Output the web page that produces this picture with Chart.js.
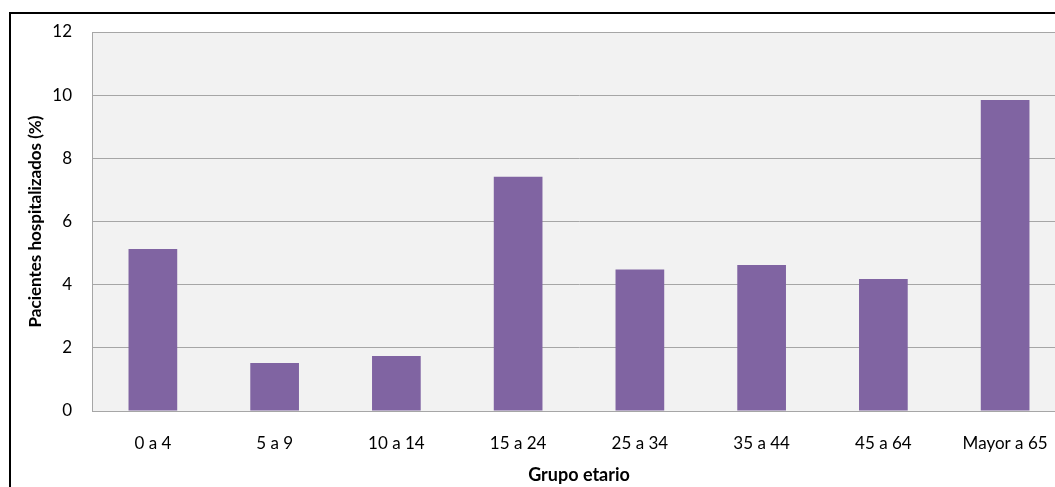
<!DOCTYPE html>
<html>
<head>
<meta charset="utf-8">
<script src="https://cdn.jsdelivr.net/npm/chart.js@4.4.1/dist/chart.umd.min.js"></script>
<style>
  html, body { margin: 0; padding: 0; background: #fff; overflow: hidden; }
  #frame {
    position: absolute; left: 9px; top: 12px; width: 1100px; height: 520px;
    border: 2px solid #000; box-sizing: border-box;
  }
  #wrap { position: absolute; left: 0; top: 0; width: 1080px; height: 487px; }
</style>
</head>
<body>
<div id="frame"></div>
<div id="wrap"><canvas id="chart"></canvas></div>
<script>
const grupos = ["0 a 4", "5 a 9", "10 a 14", "15 a 24", "25 a 34", "35 a 44", "45 a 64", "Mayor a 65"];
const hospitalizados = [5.13, 1.52, 1.74, 7.42, 4.48, 4.62, 4.18, 9.85];
const yTicks = [0, 2, 4, 6, 8, 10, 12];

const fontFamily = "Lato, 'Open Sans', sans-serif";

// gray plot background like the spreadsheet chart
const plotBg = {
  id: "plotBg",
  beforeDraw(chart) {
    const { ctx, chartArea: a } = chart;
    ctx.save();
    ctx.fillStyle = "#f2f2f2";
    ctx.fillRect(a.left, a.top, a.right - a.left, a.bottom - a.top);
    ctx.strokeStyle = "#a6a6a6";
    ctx.lineWidth = 1;
    ctx.strokeRect(a.left + 0.5, a.top + 0.5, a.right - a.left, a.bottom - a.top);
    ctx.restore();
  }
};

new Chart(document.getElementById("chart"), {
  type: "bar",
  data: {
    labels: grupos,
    datasets: [{
      data: hospitalizados,
      backgroundColor: "#8064a2",
      borderWidth: 0,
      categoryPercentage: 1,
      barPercentage: 0.4
    }]
  },
  options: {
    responsive: true,
    maintainAspectRatio: false,
    animation: false,
    layout: { padding: { top: 32, left: 21, right: 14, bottom: 0 } },
    plugins: { legend: { display: false }, tooltip: { enabled: false } },
    scales: {
      x: {
        grid: { display: false },
        border: { color: "#a6a6a6" },
        ticks: { color: "#000", font: { family: fontFamily, size: 17 }, padding: 14, maxRotation: 0 },
        title: { display: true, text: "Grupo etario", color: "#000", font: { family: fontFamily, size: 18, weight: "bold" }, padding: { top: 4, bottom: 1 } },
        afterFit(scale) { scale.height = 76; }
      },
      y: {
        min: 0,
        max: 12,
        afterBuildTicks(scale) { scale.ticks = yTicks.map(v => ({ value: v })); },
        grid: { color: "#a6a6a6", drawTicks: false },
        border: { display: true, color: "#a6a6a6" },
        ticks: { color: "#000", font: { family: fontFamily, size: 17 }, padding: 20 },
        title: { display: true, text: "Pacientes hospitalizados (%)", color: "#000", font: { family: fontFamily, size: 17, weight: "bold" }, padding: { bottom: 10 } },
        afterFit(scale) { scale.width = 71; }
      }
    }
  },
  plugins: [plotBg]
});
</script>
</body>
</html>
